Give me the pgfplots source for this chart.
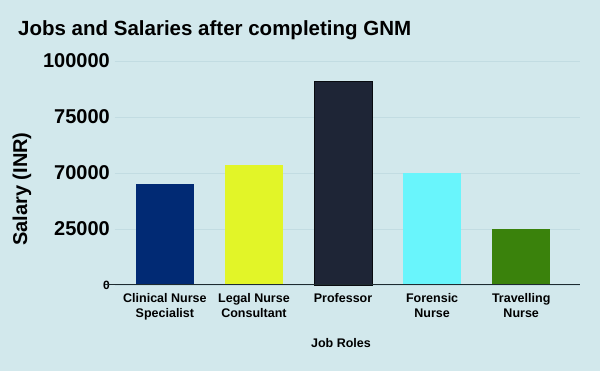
\documentclass[border=0pt]{standalone}
\usepackage{pgfplots}
\pgfplotsset{compat=1.18}
\usepackage{fontspec}
\setmainfont{Liberation Sans}
\definecolor{bg}{RGB}{210,232,236}
\definecolor{gridc}{RGB}{194,220,226}
\definecolor{axc}{RGB}{30,43,48}
\definecolor{c1}{RGB}{1,42,116}
\definecolor{c2}{RGB}{226,245,40}
\definecolor{c3}{RGB}{30,37,54}
\definecolor{c4}{RGB}{105,245,252}
\definecolor{c5}{RGB}{58,130,12}
\begin{document}
\begin{tikzpicture}
\fill[bg] (-115pt,-86pt) rectangle (485pt,285pt);
\begin{axis}[
  at={(0pt,0pt)}, anchor=south west,
  scale only axis,
  width=465pt, height=224pt,
  xmin=-0.56, xmax=4.66,
  ymin=0, ymax=100000,
  scaled y ticks=false,
  axis line style={draw=none},
  ymajorgrids, grid style={gridc, line width=0.8pt},
  major tick length=0pt,
  xtick={0,1,2,3,4},
  xticklabels={Clinical Nurse\\Specialist, Legal Nurse\\Consultant, Professor, Forensic\\Nurse, Travelling\\Nurse},
  xticklabel style={align=center, font=\fontsize{12.5}{15}\selectfont\bfseries, anchor=north, inner sep=0pt, yshift=-8pt},
  ytick={0,25000,50000,75000,100000},
  yticklabels={{\fontsize{12}{12}\selectfont 0\hspace{11pt}}, 25000\hspace{6pt}, 70000\hspace{6pt}, 75000, 100000},
  yticklabel style={font=\fontsize{20}{20}\selectfont\bfseries, anchor=east, inner sep=0pt, xshift=-5pt},
  ybar, bar width=58pt,
  clip=false,
]
\addplot[fill=c1, draw=none, bar shift=0pt] coordinates {(0,45000)};
\addplot[fill=c2, draw=none, bar shift=0pt] coordinates {(1,53500)};
\addplot[fill=c3, draw=black!70!c3, line width=0.6pt, bar shift=0pt] coordinates {(2,91000)};
\addplot[fill=c4, draw=none, bar shift=0pt] coordinates {(3,50000)};
\addplot[fill=c5, draw=none, bar shift=0pt] coordinates {(4,25000)};
\draw[axc, line width=1pt] ([xshift=-10pt]axis cs:-0.56,0) -- (axis cs:4.66,0);
\end{axis}
\node[anchor=base west, inner sep=0pt, font=\fontsize{20.5}{20.5}\selectfont\bfseries] at (-97pt,249pt) {Jobs and Salaries after completing GNM};
\node[rotate=90, inner sep=0pt, font=\fontsize{20}{20}\selectfont\bfseries] at (-93pt,96pt) {Salary (INR)};
\node[inner sep=0pt, font=\fontsize{12.5}{15}\selectfont\bfseries] at (226pt,-58pt) {Job Roles};
\end{tikzpicture}
\end{document}
